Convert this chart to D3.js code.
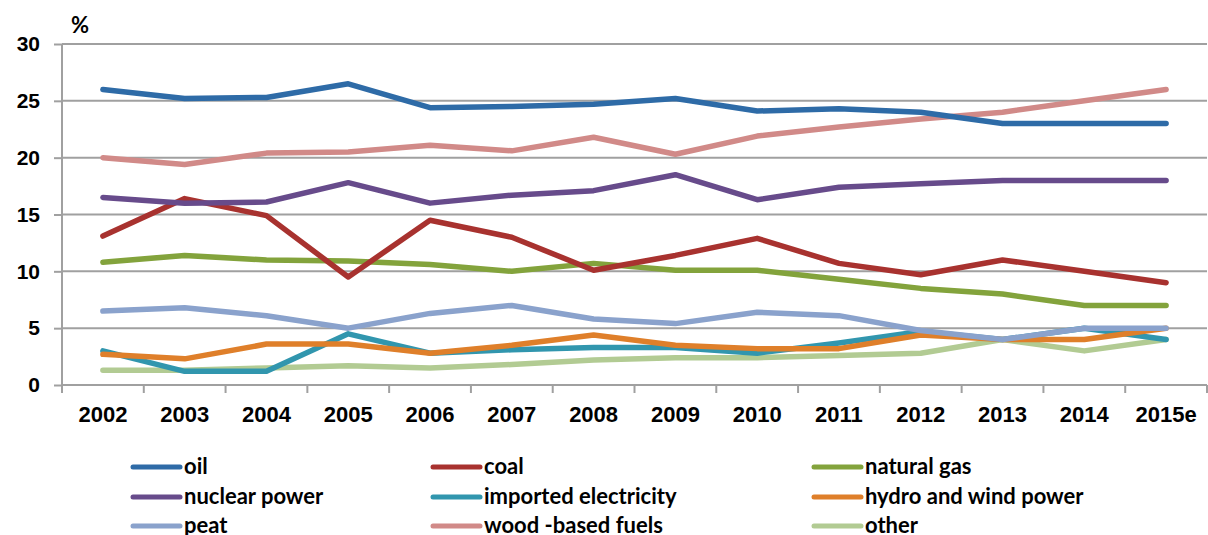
<!DOCTYPE html>
<html>
<head>
	<meta charset="utf-8">
	<style>
		body { margin: 0; background: #fff; font-family: Lato, "Open Sans", sans-serif; }
		svg { display: block; }
		.grid line { stroke: #a0a0a0; stroke-width: 2px; }
		.axis path { display: none; }
		.axis line { stroke: #a0a0a0; stroke-width: 2px; }
		.axis text { font-size: 21px; font-weight: bold; fill: #000; }
		.x.axis text { font-size: 22px; }
		.series { fill: none; stroke-width: 5.5px; stroke-linecap: round; stroke-linejoin: round; }
		.legend text { font-size: 22px; font-weight: bold; fill: #000; }
	</style>
</head>
<body>
<script src="https://d3js.org/d3.v7.min.js"></script>
<script>
	var years = ["2002", "2003", "2004", "2005", "2006", "2007", "2008", "2009", "2010", "2011", "2012", "2013", "2014", "2015e"];
	var yTicks = [0, 5, 10, 15, 20, 25, 30];

	var oil = [26, 25.2, 25.3, 26.5, 24.4, 24.5, 24.7, 25.2, 24.1, 24.3, 24.0, 23, 23, 23];
	var coal = [13.1, 16.4, 14.9, 9.5, 14.5, 13.0, 10.1, 11.4, 12.9, 10.7, 9.7, 11.0, 10.0, 9.0];
	var naturalGas = [10.8, 11.4, 11.0, 10.9, 10.6, 10.0, 10.7, 10.1, 10.1, 9.3, 8.5, 8.0, 7.0, 7.0];
	var nuclear = [16.5, 16.0, 16.1, 17.8, 16.0, 16.7, 17.1, 18.5, 16.3, 17.4, 17.7, 18, 18, 18];
	var imported = [3.0, 1.2, 1.2, 4.5, 2.8, 3.1, 3.3, 3.3, 2.8, 3.7, 4.7, 4.0, 5.0, 4.0];
	var hydroWind = [2.7, 2.3, 3.6, 3.6, 2.8, 3.5, 4.4, 3.5, 3.2, 3.2, 4.4, 4.0, 4.0, 5.0];
	var peat = [6.5, 6.8, 6.1, 5.0, 6.3, 7.0, 5.8, 5.4, 6.4, 6.1, 4.8, 4.0, 5.0, 5.0];
	var wood = [20, 19.4, 20.4, 20.5, 21.1, 20.6, 21.8, 20.3, 21.9, 22.7, 23.4, 24, 25, 26];
	var other = [1.3, 1.3, 1.5, 1.7, 1.5, 1.8, 2.2, 2.4, 2.4, 2.6, 2.8, 4.0, 3.0, 4.0];

	var seriesNames = ["oil", "coal", "natural gas", "nuclear power", "imported electricity", "hydro and wind power", "peat", "wood -based fuels", "other"];
	var seriesValues = [oil, coal, naturalGas, nuclear, imported, hydroWind, peat, wood, other];
	var colors = ["#2e6ba7", "#a8322f", "#83a33c", "#674b8b", "#3196ae", "#df7f2a", "#8aa2cc", "#d18a88", "#b2cb93"];
	// order lines are drawn in (bottom to top)
	var drawOrder = [8, 4, 5, 6, 2, 1, 3, 7, 0];

	var plotLeft = 62, plotTop = 44, plotRight = 1207, plotBottom = 385;
	var svg = d3.select("body").append("svg")
		.attr("width", 1208)
		.attr("height", 535);

	var x = d3.scaleBand().domain(years).range([plotLeft, plotRight]);
	var y = d3.scaleLinear().domain([0, 30]).range([plotBottom, plotTop]);

	// horizontal gridlines
	svg.append("g").attr("class", "grid")
		.selectAll("line")
		.data(yTicks.filter(function(d) { return d > 0; }))
		.enter().append("line")
			.attr("x1", plotLeft).attr("x2", plotRight)
			.attr("y1", function(d) { return y(d); })
			.attr("y2", function(d) { return y(d); });

	var yAxis = d3.axisLeft(y).tickValues(yTicks).tickSize(8).tickPadding(14);
	var yg = svg.append("g").attr("class", "y axis")
		.attr("transform", "translate(" + plotLeft + ",0)")
		.call(yAxis);
	yg.append("line").attr("x1", 0).attr("x2", 0).attr("y1", plotTop).attr("y2", plotBottom);

	var xAxis = d3.axisBottom(x).tickSize(0).tickPadding(21);
	var xg = svg.append("g").attr("class", "x axis")
		.attr("transform", "translate(0," + plotBottom + ")")
		.call(xAxis);
	xg.append("line").attr("x1", plotLeft).attr("x2", plotRight).attr("y1", 0).attr("y2", 0);
	xg.selectAll(".bound")
		.data(years.concat(["end"]))
		.enter().append("line")
			.attr("class", "bound")
			.attr("x1", function(d, i) { return plotLeft + i * x.step(); })
			.attr("x2", function(d, i) { return plotLeft + i * x.step(); })
			.attr("y1", 0).attr("y2", 8);

	svg.append("text")
		.attr("x", 71).attr("y", 33)
		.style("font-size", "22px").style("font-weight", "bold")
		.text("%");

	var line = d3.line()
		.x(function(d, i) { return x(years[i]) + x.bandwidth() / 2; })
		.y(function(d) { return y(d); });

	svg.append("g").selectAll("path")
		.data(drawOrder)
		.enter().append("path")
			.attr("class", "series")
			.attr("stroke", function(k) { return colors[k]; })
			.attr("d", function(k) { return line(seriesValues[k]); });

	// legend, 3 columns
	var colX = [133, 433, 814];
	var rowY = [467, 497, 526];
	var legend = svg.append("g").attr("class", "legend")
		.selectAll("g")
		.data(seriesNames)
		.enter().append("g")
			.attr("transform", function(d, i) { return "translate(" + colX[i % 3] + "," + rowY[Math.floor(i / 3)] + ")"; });
	legend.append("line")
		.attr("x1", 0).attr("x2", 47)
		.attr("stroke", function(d, i) { return colors[i]; })
		.attr("stroke-width", 5)
		.attr("stroke-linecap", "round");
	legend.append("text")
		.attr("x", 51).attr("y", 7)
		.text(function(d) { return d; });
</script>
</body>
</html>
